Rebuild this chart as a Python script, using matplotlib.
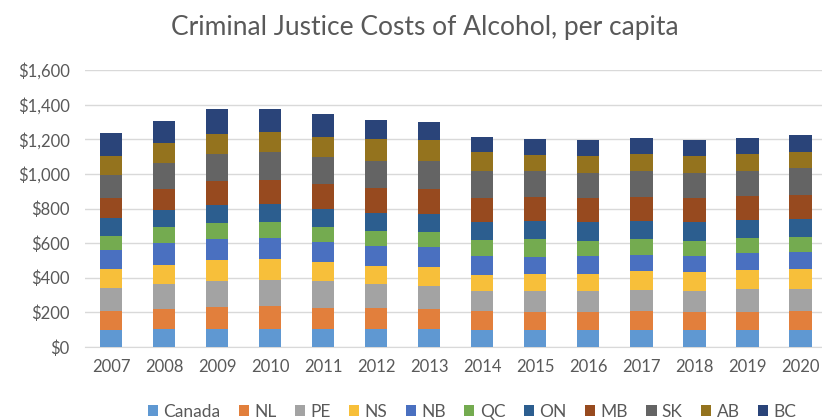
import matplotlib
matplotlib.use("Agg")
import matplotlib.pyplot as plt
import numpy as np

plt.rcParams['font.family'] = ['Lato', 'DejaVu Sans']

years = [2007, 2008, 2009, 2010, 2011, 2012, 2013, 2014, 2015, 2016, 2017, 2018, 2019, 2020]
regions = ['Canada', 'NL', 'PE', 'NS', 'NB', 'QC', 'ON', 'MB', 'SK', 'AB', 'BC']
colors = ['#5F98D2', '#E27F3C', '#A3A3A3', '#F7BF3A', '#4A70C0', '#74AB50',
          '#2C5E8F', '#974A1F', '#646464', '#94731E', '#2A4479']

canada = [100, 106, 104, 104, 104, 104, 104, 96, 96, 96, 96, 96, 96, 96]
nl = [106, 113, 127, 131, 121, 121, 115, 110, 106, 104, 110, 106, 106, 114]
pe = [132, 144, 152, 153, 158, 138, 131, 115, 119, 125, 121, 119, 133, 125]
ns = [112, 110, 121, 122, 107, 102, 110, 96, 102, 98, 110, 110, 107, 115]
nb = [108, 127, 121, 119, 114, 116, 115, 110, 94, 104, 96, 92, 100, 96]
qc = [84, 92, 90, 92, 92, 88, 90, 90, 104, 88, 90, 90, 89, 89]
on = [102, 102, 104, 104, 102, 104, 104, 104, 104, 106, 102, 108, 104, 103]
mb = [116, 119, 141, 140, 144, 146, 144, 141, 139, 139, 142, 139, 138, 141]
sk = [134, 152, 153, 160, 154, 154, 160, 155, 150, 144, 150, 144, 144, 154]
ab = [112, 116, 116, 115, 119, 127, 121, 108, 96, 100, 95, 98, 95, 92]
bc = [129, 127, 144, 133, 129, 113, 108, 90, 90, 92, 98, 96, 98, 98]

series = [canada, nl, pe, ns, nb, qc, on, mb, sk, ab, bc]

W, H = 822, 420
fig = plt.figure(figsize=(W / 100, H / 100), dpi=100)
ax = fig.add_axes([85 / W, (H - 347) / H, (826.5 - 85) / W, (347 - 70) / H])

x = np.arange(len(years))
bottom = np.zeros(len(years))
for name, vals, c in zip(regions, series, colors):
    ax.bar(x, vals, width=0.42, bottom=bottom, color=c, label=name, zorder=3)
    bottom += np.array(vals)

ax.set_ylim(0, 1600)
ax.set_xlim(-0.49, len(years) - 0.51)
ax.set_yticks(range(0, 1601, 200))
ax.set_yticklabels([f"${v:,}" for v in range(0, 1601, 200)])
ax.set_xticks(x)
ax.set_xticklabels([str(y) for y in years])
ax.grid(axis='y', color='#D9D9D9', linewidth=1, zorder=0)
for s in ['top', 'right', 'left']:
    ax.spines[s].set_visible(False)
ax.spines['bottom'].set_color('#D9D9D9')
ax.tick_params(axis='both', length=0, labelsize=12, colors='#595959')
ax.tick_params(axis='x', pad=9)
ax.tick_params(axis='y', pad=11)

fig.text(425 / W, 1 - 27 / H, 'Criminal Justice Costs of Alcohol, per capita',
         ha='center', va='center', fontsize=19, color='#595959')

handles, labels = ax.get_legend_handles_labels()
fig.legend(handles, labels, loc='center', bbox_to_anchor=(472 / W, 1 - 412 / H),
           ncol=11, frameon=False, fontsize=12.5, labelcolor='#595959',
           handlelength=0.6, handleheight=0.6, handletextpad=0.3, columnspacing=1.05)

fig.savefig('out.png', dpi=100)
